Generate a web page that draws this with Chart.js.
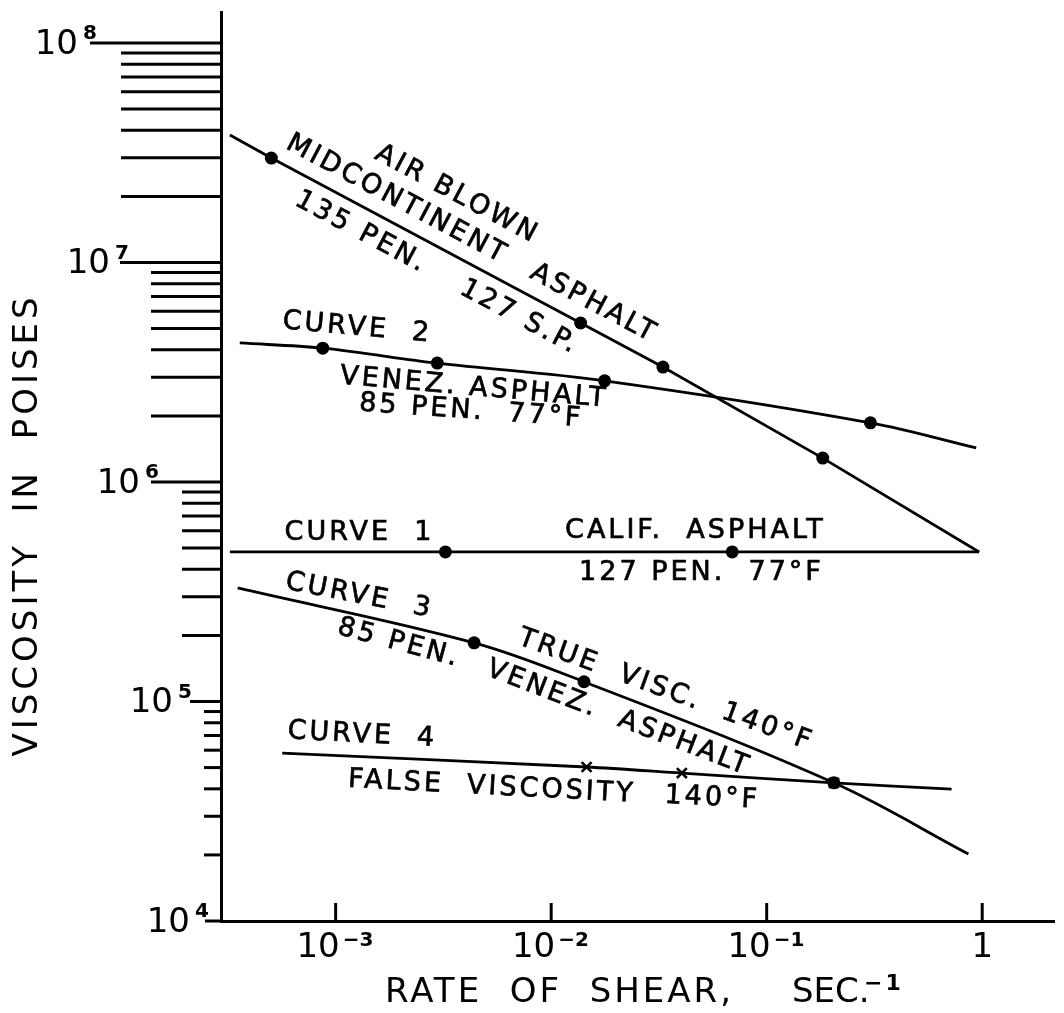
<!DOCTYPE html>
<html>
<head>
<meta charset="utf-8">
<script src="https://cdn.jsdelivr.net/npm/chart.js@4.4.1/dist/chart.umd.min.js"></script>
<style>
  html, body { margin: 0; background: #fff; }
  #wrap { width: 1064px; height: 1013px; }
</style>
</head>
<body>
<div id="wrap"><canvas id="chart"></canvas></div>
<script>
// rate of shear (1/sec) vs viscosity (poises)
var airX = [3.23e-4, 5.03e-4, 1.37e-2, 3.30e-2, 1.82e-1, 0.968];
var airY = [3.81e7, 2.99e7, 5.30e6, 3.34e6, 1.285e6, 4.8e5];
var airDots = [1, 2, 3, 4];

var c1X = [3.23e-4, 3.23e-3, 6.92e-2, 0.968];
var c1Y = [4.8e5, 4.8e5, 4.8e5, 4.8e5];
var c1Dots = [1, 2];

var c2X = [3.59e-4, 8.71e-4, 2.96e-3, 1.77e-2, 0.303, 0.938];
var c2Y = [4.30e6, 4.07e6, 3.48e6, 2.89e6, 1.86e6, 1.43e6];
var c2Dots = [1, 2, 3, 4];

var c3X = [3.51e-4, 4.39e-3, 1.42e-2, 0.205, 0.863];
var c3Y = [3.29e5, 1.85e5, 1.23e5, 4.26e4, 2.02e4];
var c3Dots = [1, 2, 3];

var c4X = [5.65e-4, 1.46e-2, 4.04e-2, 0.205, 0.721];
var c4Y = [5.82e4, 5.03e4, 4.72e4, 4.26e4, 3.99e4];
var c4Crosses = [1, 2, 3];

var yTickVals = [1e4, 1e5, 1e6, 1e7, 1e8];
var yTickExp = ['4', '5', '6', '7', '8'];
var xTickVals = [1e-3, 1e-2, 1e-1, 1];
var xTickBase = ['10', '10', '10', '1'];
var xTickExp = ['\u22123', '\u22122', '\u22121', ''];

// curve notes: text, x value, y value, angle (deg)
var notes = [
  ['AIR BLOWN', 3.62e-3, 2.05e7, 28],
  ['MIDCONTINENT', 1.905e-3, 1.945e7, 28],
  ['ASPHALT', 1.56e-2, 6.53e6, 28],
  ['135 PEN.', 1.303e-3, 1.377e7, 28],
  ['127 S.P.', 7.06e-3, 5.65e6, 28],
  ['CURVE  2', 1.247e-3, 5.04e6, 5],
  ['VENEZ. ASPHALT', 4.345e-3, 2.68e6, 5],
  ['85 PEN.  77\u00b0F', 4.21e-3, 2.10e6, 4],
  ['CURVE  1', 1.276e-3, 5.86e5, 0],
  ['CALIF.  ASPHALT', 4.62e-2, 5.98e5, 0],
  ['127 PEN.  77\u00b0F', 4.93e-2, 3.85e5, 0],
  ['CURVE  3', 1.276e-3, 3.03e5, 11],
  ['85 PEN.', 1.945e-3, 1.85e5, 15],
  ['TRUE  VISC.  140\u00b0F', 3.37e-2, 1.127e5, 20],
  ['VENEZ.  ASPHALT', 2.03e-2, 8.41e4, 21],
  ['CURVE  4', 1.315e-3, 7.03e4, 3],
  ['FALSE  VISCOSITY', 5.25e-3, 4.07e4, 3],
  ['140\u00b0F', 5.53e-2, 3.63e4, 3]
];

var FONT = '"DejaVu Sans", sans-serif';

function pts(xs, ys) {
  var out = [];
  for (var i = 0; i < xs.length; i++) out.push({x: xs[i], y: ys[i]});
  return out;
}
function pick(xs, ys, idx) {
  return idx.map(function(i) { return {x: xs[i], y: ys[i]}; });
}

function curve(xs, ys, tension) {
  return {
    type: 'line', data: pts(xs, ys), borderColor: '#000', borderWidth: 2.8,
    pointRadius: 0, fill: false, tension: tension
  };
}
function marks(data, style) {
  return {
    type: 'scatter', data: data, showLine: false,
    pointStyle: style, pointRadius: style === 'circle' ? 6.5 : 7,
    borderWidth: style === 'circle' ? 0 : 2.6,
    backgroundColor: '#000', borderColor: '#000'
  };
}

// tick geometry, index 0 -> 10^4
var majorStart = [205, 190, 151, 120, 90];
var minorStart = [204, 182, 151, 121];
var labelRight = [190, 173, 140, 110, 78];

var decor = {
  id: 'decor',
  afterDraw: function(chart) {
    var ctx = chart.ctx, sx = chart.scales.x, sy = chart.scales.y;
    var left = chart.chartArea.left, bottom = chart.chartArea.bottom;
    ctx.save();
    ctx.strokeStyle = '#000';
    ctx.fillStyle = '#000';
    ctx.lineWidth = 3;

    function seg(x1, y1, x2, y2) {
      ctx.beginPath(); ctx.moveTo(x1, y1); ctx.lineTo(x2, y2); ctx.stroke();
    }

    // y ticks and labels
    for (var i = 0; i < yTickVals.length; i++) {
      var y = sy.getPixelForValue(yTickVals[i]);
      seg(majorStart[i], y, left, y);
      if (i < minorStart.length) {
        for (var m = 2; m <= 9; m++) {
          var yy = sy.getPixelForValue(m * yTickVals[i]);
          seg(minorStart[i], yy, left, yy);
        }
      }
      ctx.letterSpacing = '0px';
      ctx.font = '34px ' + FONT;
      ctx.textAlign = 'right';
      ctx.textBaseline = 'middle';
      ctx.fillText('10', labelRight[i], y + 2);
      ctx.font = 'bold 20px ' + FONT;
      ctx.textAlign = 'left';
      ctx.textBaseline = 'alphabetic';
      ctx.fillText(yTickExp[i], labelRight[i] + 5, y - 4);
    }

    // x ticks and labels
    for (var j = 0; j < xTickVals.length; j++) {
      var x = sx.getPixelForValue(xTickVals[j]);
      seg(x, bottom, x, bottom - 18);
      ctx.font = '34px ' + FONT;
      ctx.textBaseline = 'middle';
      if (xTickExp[j]) {
        ctx.textAlign = 'right';
        ctx.fillText(xTickBase[j], x + 4, bottom + 27);
        ctx.font = 'bold 20px ' + FONT;
        ctx.textAlign = 'left';
        ctx.textBaseline = 'alphabetic';
        ctx.fillText(xTickExp[j], x + 7, bottom + 25);
      } else {
        ctx.textAlign = 'center';
        ctx.fillText(xTickBase[j], x, bottom + 27);
      }
    }

    // axis titles
    ctx.font = '34px ' + FONT;
    ctx.letterSpacing = '4px';
    ctx.textBaseline = 'middle';
    ctx.textAlign = 'center';
    ctx.save();
    ctx.translate(28, 525);
    ctx.rotate(-Math.PI / 2);
    ctx.fillText('VISCOSITY  IN  POISES', 0, 0);
    ctx.restore();

    ctx.textAlign = 'left';
    ctx.textBaseline = 'alphabetic';
    ctx.letterSpacing = '3px';
    ctx.fillText('RATE  OF  SHEAR,', 385, 1002);
    ctx.letterSpacing = '0px';
    ctx.fillText('SEC.', 792, 1002);
    ctx.font = 'bold 22px ' + FONT;
    ctx.letterSpacing = '3px';
    ctx.fillText('\u22121', 864, 990);

    // notes along the curves
    ctx.font = '27px ' + FONT;
    ctx.letterSpacing = '3px';
    ctx.textAlign = 'center';
    ctx.textBaseline = 'middle';
    ctx.lineWidth = 0.7;
    notes.forEach(function(n) {
      ctx.save();
      ctx.translate(sx.getPixelForValue(n[1]), sy.getPixelForValue(n[2]));
      ctx.rotate(n[3] * Math.PI / 180);
      ctx.fillText(n[0], 1, 0);
      ctx.strokeText(n[0], 1, 0);
      ctx.restore();
    });
    ctx.restore();
  }
};

var ctx = document.getElementById('chart');
new Chart(ctx, {
  data: {
    datasets: [
      curve(airX, airY, 0),
      curve(c1X, c1Y, 0),
      curve(c2X, c2Y, 0.35),
      curve(c3X, c3Y, 0.35),
      curve(c4X, c4Y, 0.3),
      marks(pick(airX, airY, airDots), 'circle'),
      marks(pick(c1X, c1Y, c1Dots), 'circle'),
      marks(pick(c2X, c2Y, c2Dots), 'circle'),
      marks(pick(c3X, c3Y, c3Dots), 'circle'),
      marks(pick(c4X, c4Y, c4Crosses), 'crossRot')
    ]
  },
  options: {
    responsive: true,
    maintainAspectRatio: false,
    animation: false,
    layout: { padding: { top: 12, right: 0, left: 0, bottom: 0 } },
    plugins: { legend: { display: false }, tooltip: { enabled: false } },
    scales: {
      x: {
        type: 'logarithmic',
        min: Math.pow(10, -3.532),
        max: Math.pow(10, 0.335),
        grid: { display: false },
        ticks: { display: false },
        border: { display: true, color: '#000', width: 3 },
        afterFit: function(s) { s.height = 92; }
      },
      y: {
        type: 'logarithmic',
        min: 1e4,
        max: Math.pow(10, 4 + 909 / 219.5),
        grid: { display: false },
        ticks: { display: false },
        border: { display: true, color: '#000', width: 3 },
        afterFit: function(s) { s.width = 221; }
      }
    }
  },
  plugins: [decor]
});
</script>
</body>
</html>
